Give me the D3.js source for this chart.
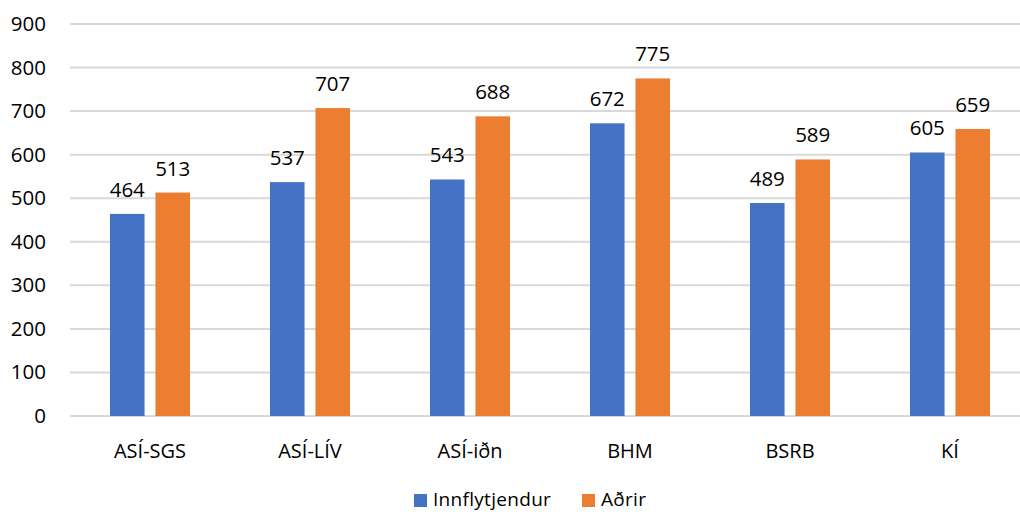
<!DOCTYPE html>
<html><head><meta charset="utf-8">
<script src="https://cdn.jsdelivr.net/npm/d3@7"></script>
<style>
body{margin:0;background:#fff;}
text{font-family:"Open Sans",sans-serif;fill:#000;}
</style></head>
<body><svg id="c" width="1020" height="512"></svg>
<script>
const categories = ["ASÍ-SGS","ASÍ-LÍV","ASÍ-iðn","BHM","BSRB","KÍ"];
const seriesNames = ["Innflytjendur","Aðrir"];
const innflytjendur = [464,537,543,672,489,605];
const adrir = [513,707,688,775,589,659];
const yTicks = [0,100,200,300,400,500,600,700,800,900];
const colors = ["#4472C4","#ED7D31"];

const svg = d3.select("#c");
const x0 = d3.scaleBand().domain(categories).range([70,1030]);
const x1 = d3.scaleBand().domain(seriesNames).range([40,120]).paddingInner(0.24);
const y = d3.scaleLinear().domain([0,900]).range([416,24]);

// grid
svg.append("g").selectAll("line").data(yTicks).join("line")
  .attr("x1",70).attr("x2",1030)
  .attr("y1",d=>y(d)).attr("y2",d=>y(d))
  .attr("stroke","#d9d9d9").attr("stroke-width",2);

// y labels
svg.append("g").selectAll("text").data(yTicks).join("text")
  .attr("x",46).attr("y",d=>y(d)+7)
  .attr("text-anchor","end").attr("font-size",20.5).text(d=>d);

const data = categories.map((c,i)=>({c, vals:[innflytjendur[i],adrir[i]]}));
const g = svg.append("g").selectAll("g").data(data).join("g")
  .attr("transform",d=>`translate(${x0(d.c)},0)`);
g.selectAll("rect").data(d=>d.vals.map((v,j)=>({v,s:seriesNames[j],j})))
  .join("rect")
  .attr("x",d=>x1(d.s)).attr("width",x1.bandwidth())
  .attr("y",d=>y(d.v)).attr("height",d=>y(0)-y(d.v))
  .attr("fill",d=>colors[d.j]);
g.selectAll("text.v").data(d=>d.vals.map((v,j)=>({v,s:seriesNames[j],j})))
  .join("text").attr("class","v")
  .attr("x",d=>x1(d.s)+x1.bandwidth()/2).attr("y",d=>y(d.v)-17)
  .attr("text-anchor","middle").attr("font-size",20.5).text(d=>d.v);

// category labels
svg.append("g").selectAll("text").data(categories).join("text")
  .attr("x",d=>x0(d)+x0.bandwidth()/2).attr("y",458)
  .attr("text-anchor","middle").attr("font-size",20).text(d=>d);

// legend
const leg = [{x:414,tx:433},{x:582,tx:601}];
seriesNames.forEach((s,i)=>{
  svg.append("rect").attr("x",leg[i].x).attr("y",494).attr("width",13).attr("height",13).attr("fill",colors[i]);
  svg.append("text").attr("x",leg[i].tx).attr("y",506).attr("font-size",19).attr("letter-spacing",0.3).text(s);
});
</script></body></html>
